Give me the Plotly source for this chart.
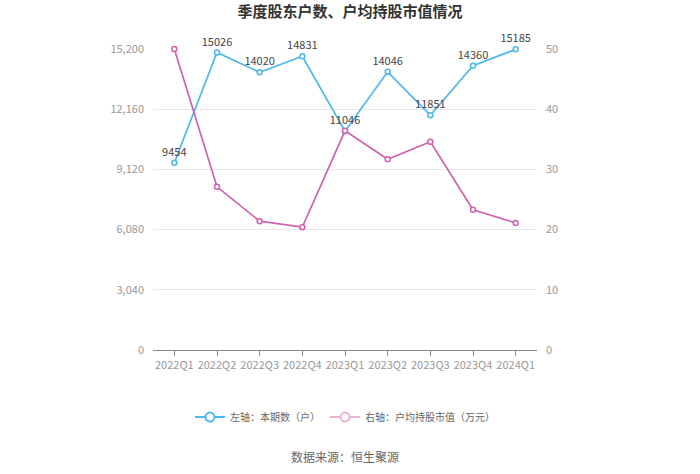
import plotly.graph_objects as go

categories = ["2022Q1", "2022Q2", "2022Q3", "2022Q4", "2023Q1", "2023Q2", "2023Q3", "2023Q4", "2024Q1"]
holders = [9454, 15026, 14020, 14831, 11046, 14046, 11851, 14360, 15185]
avg_value = [50.0, 27.1, 21.4, 20.4, 36.4, 31.7, 34.6, 23.3, 21.1]
left_ticks = [0, 3040, 6080, 9120, 12160, 15200]
right_ticks = [0, 10, 20, 30, 40, 50]

blue = "#4db8ea"
pink = "#cf62ad"
pink_light = "#eab0d6"
font = "Noto Sans CJK SC"

fig = go.Figure()
fig.add_trace(go.Scatter(
    x=categories, y=holders, name="左轴：本期数（户）", showlegend=False,
    mode="lines+markers+text", text=[str(v) for v in holders],
    textposition="top center", textfont=dict(size=11, color="#444", family=font),
    line=dict(color=blue, width=1.7),
    marker=dict(symbol="circle", size=5, color="white", line=dict(color=blue, width=1.5)),
    yaxis="y", cliponaxis=False,
))
fig.add_trace(go.Scatter(
    x=categories, y=avg_value, name="右轴：户均持股市值（万元）", showlegend=False,
    mode="lines+markers",
    line=dict(color=pink, width=1.7),
    marker=dict(symbol="circle", size=5, color="white", line=dict(color=pink, width=1.5)),
    yaxis="y2", cliponaxis=False,
))
# legend entries
fig.add_trace(go.Scatter(
    x=[None], y=[None], name="左轴：本期数（户）", mode="lines+markers",
    line=dict(color=blue, width=2),
    marker=dict(symbol="circle", size=9, color="white", line=dict(color=blue, width=2)),
))
fig.add_trace(go.Scatter(
    x=[None], y=[None], name="右轴：户均持股市值（万元）", mode="lines+markers",
    line=dict(color=pink_light, width=2),
    marker=dict(symbol="circle", size=9, color="white", line=dict(color=pink_light, width=2)),
    yaxis="y2",
))

fig.update_layout(
    width=700, height=474,
    margin=dict(l=153, r=163, t=49, b=124),
    paper_bgcolor="white", plot_bgcolor="white",
    font=dict(family=font, color="#999", size=11),
    title=dict(text="<b>季度股东户数、户均持股市值情况</b>", x=0.5, xanchor="center",
               y=1 - 12 / 474, yanchor="middle", font=dict(size=15, color="#333", family=font)),
    xaxis=dict(
        type="category", showgrid=False, showline=True, linecolor="#888", linewidth=1,
        ticks="outside", ticklen=5, tickcolor="#888",
        tickfont=dict(size=11, color="#999"), range=[-0.5, 8.5],
    ),
    yaxis=dict(
        range=[0, 15200], tickvals=left_ticks, tickformat=",", showgrid=True,
        gridcolor="#e8e8e8", zeroline=False, showline=False,
        tickfont=dict(size=11, color="#999"), ticks="", ticklabelstandoff=8,
    ),
    yaxis2=dict(
        range=[0, 50], tickvals=right_ticks, overlaying="y", side="right",
        showgrid=False, zeroline=False, showline=False,
        tickfont=dict(size=11, color="#999"), ticklabelstandoff=8,
    ),
    legend=dict(orientation="h", x=0.5, xanchor="center", y=-0.223, yanchor="middle",
                font=dict(size=10, color="#666"), itemwidth=30),
    showlegend=True,
)
fig.add_annotation(text="数据来源：恒生聚源", xref="paper", yref="paper", x=0.5, y=-0.355,
                   xanchor="center", yanchor="middle", showarrow=False,
                   font=dict(size=12, color="#666", family=font))

fig.write_html("out.html")
